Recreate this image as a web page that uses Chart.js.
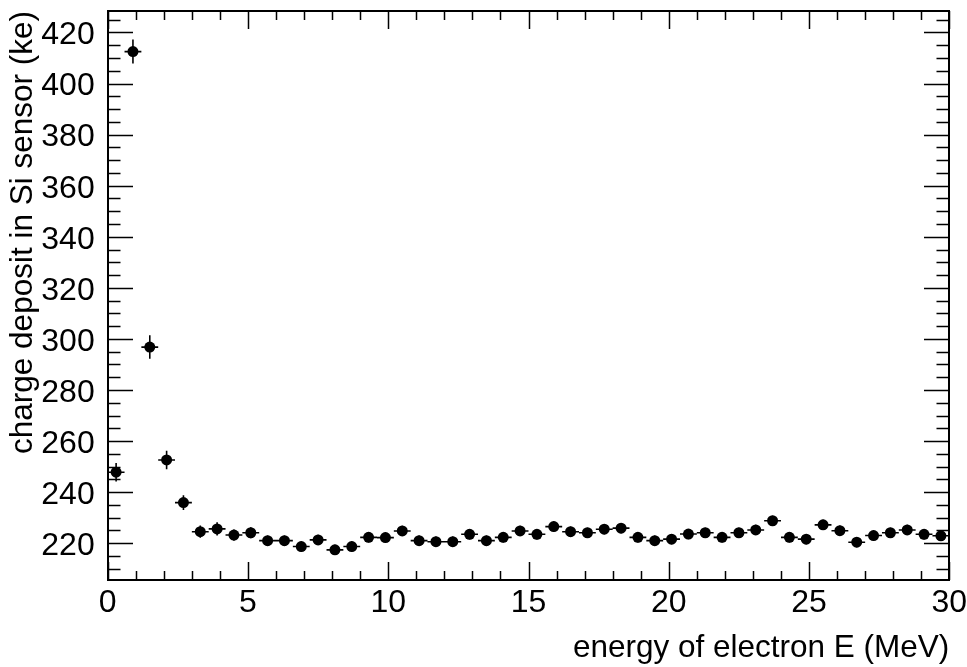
<!DOCTYPE html>
<html>
<head>
<meta charset="utf-8">
<script src="https://cdn.jsdelivr.net/npm/chart.js@4.4.1/dist/chart.umd.min.js"></script>
<style>
  html, body { margin: 0; padding: 0; background: #fff; }
  #wrap { width: 967px; height: 667px; }
</style>
</head>
<body>
<div id="wrap"><canvas id="chart" width="967" height="667"></canvas></div>
<script>
// bin centres (MeV)
const energy = [
  0.3, 0.9, 1.5, 2.1, 2.7, 3.3, 3.9, 4.5, 5.1, 5.7,
  6.3, 6.9, 7.5, 8.1, 8.7, 9.3, 9.9, 10.5, 11.1, 11.7,
  12.3, 12.9, 13.5, 14.1, 14.7, 15.3, 15.9, 16.5, 17.1, 17.7,
  18.3, 18.9, 19.5, 20.1, 20.7, 21.3, 21.9, 22.5, 23.1, 23.7,
  24.3, 24.9, 25.5, 26.1, 26.7, 27.3, 27.9, 28.5, 29.1, 29.7
];
// mean charge deposit (ke)
const charge = [
  247.8, 412.5, 296.8, 252.6, 235.9, 224.5, 225.6, 223.2, 224.1, 221.0,
  221.0, 218.7, 221.3, 217.4, 218.7, 222.3, 222.2, 224.8, 221.0, 220.6,
  220.6, 223.5, 221.0, 222.3, 224.8, 223.5, 226.5, 224.5, 224.1, 225.5,
  225.9, 222.3, 221.0, 221.6, 223.6, 224.1, 222.3, 224.1, 225.2, 228.8,
  222.3, 221.6, 227.2, 224.9, 220.4, 223.0, 224.1, 225.2, 223.5, 222.9
];
const chargeErr = [
  3.6, 4.7, 4.6, 3.6, 2.9, 2.4, 2.6, 2.2, 2.2, 2.0,
  2.0, 2.0, 2.0, 2.0, 2.0, 2.0, 2.0, 2.0, 2.0, 2.0,
  2.0, 2.0, 2.0, 2.0, 2.0, 2.0, 2.0, 2.0, 2.0, 2.0,
  2.0, 2.0, 2.0, 2.0, 2.0, 2.0, 2.0, 2.0, 2.0, 2.0,
  2.0, 2.0, 2.0, 2.0, 2.0, 2.0, 2.0, 2.0, 2.0, 2.0
];
const binHalfWidth = 0.3;

const xTicks = [0, 5, 10, 15, 20, 25, 30];
const yTicks = [220, 240, 260, 280, 300, 320, 340, 360, 380, 400, 420];
const xRange = [0, 30];
const yRange = [205.6, 428.4];

const FONT = "'Liberation Sans', Arial, Helvetica, sans-serif";

// ROOT style: error bars, frame and inward ticks on all four sides
const rootFrame = {
  id: 'rootFrame',
  beforeDatasetsDraw(chart) {
    const ctx = chart.ctx;
    const xs = chart.scales.x, ys = chart.scales.y;
    const a = chart.chartArea;
    ctx.save();
    ctx.beginPath();
    ctx.rect(a.left, a.top, a.right - a.left, a.bottom - a.top);
    ctx.clip();
    ctx.strokeStyle = '#000';
    ctx.lineWidth = 1.6;
    ctx.beginPath();
    energy.forEach((e, i) => {
      const px = xs.getPixelForValue(e);
      const py = ys.getPixelForValue(charge[i]);
      ctx.moveTo(xs.getPixelForValue(e - binHalfWidth), py);
      ctx.lineTo(xs.getPixelForValue(e + binHalfWidth), py);
      ctx.moveTo(px, ys.getPixelForValue(charge[i] - chargeErr[i]));
      ctx.lineTo(px, ys.getPixelForValue(charge[i] + chargeErr[i]));
    });
    ctx.stroke();
    ctx.restore();
  },
  afterDraw(chart) {
    const ctx = chart.ctx;
    const a = chart.chartArea;
    const xs = chart.scales.x, ys = chart.scales.y;
    const L = Math.round(a.left), R = Math.round(a.right);
    const T = Math.round(a.top), B = Math.round(a.bottom);
    ctx.save();
    ctx.strokeStyle = '#000';
    ctx.lineWidth = 1.5;
    ctx.beginPath();
    // x ticks, every 1 unit, major every 5
    for (let v = xRange[0]; v <= xRange[1]; v += 1) {
      const p = Math.round(xs.getPixelForValue(v)) + 0.5;
      const len = v % 5 === 0 ? 18 : 9;
      ctx.moveTo(p, B); ctx.lineTo(p, B - len);
      ctx.moveTo(p, T); ctx.lineTo(p, T + len);
    }
    // y ticks, every 5 units, major every 20
    for (let v = 210; v <= yRange[1]; v += 5) {
      const p = Math.round(ys.getPixelForValue(v)) + 0.5;
      const len = (v - 220) % 20 === 0 ? 25 : 12.5;
      ctx.moveTo(L, p); ctx.lineTo(L + len, p);
      ctx.moveTo(R, p); ctx.lineTo(R - len, p);
    }
    ctx.stroke();
    ctx.lineWidth = 2;
    ctx.strokeRect(L, T, R - L, B - T);
    ctx.restore();
  }
};

Chart.defaults.color = '#000';
Chart.defaults.font.family = FONT;

new Chart(document.getElementById('chart'), {
  type: 'scatter',
  data: {
    datasets: [{
      label: 'charge',
      data: energy.map((e, i) => ({ x: e, y: charge[i] })),
      backgroundColor: '#000',
      borderWidth: 0,
      pointRadius: 5.5,
      pointHoverRadius: 5.5
    }]
  },
  options: {
    responsive: false,
    animation: false,
    layout: { padding: { top: 11, right: 17.7, left: 0, bottom: 0 } },
    plugins: { legend: { display: false }, tooltip: { enabled: false } },
    scales: {
      x: {
        type: 'linear',
        min: xRange[0],
        max: xRange[1],
        afterBuildTicks: s => { s.ticks = xTicks.map(v => ({ value: v })); },
        afterFit: s => { s.height = 87; s.paddingLeft = 0; s.paddingRight = 0; },
        grid: { display: false },
        border: { display: false },
        ticks: { font: { size: 32 }, padding: -4, maxRotation: 0, autoSkip: false },
        title: {
          display: true,
          text: 'energy of electron E (MeV)',
          align: 'end',
          font: { size: 31.5 },
          padding: { top: 0, bottom: 0 }
        }
      },
      y: {
        type: 'linear',
        min: yRange[0],
        max: yRange[1],
        afterBuildTicks: s => { s.ticks = yTicks.map(v => ({ value: v })); },
        afterFit: s => { s.width = 107.7; s.paddingTop = 0; s.paddingBottom = 0; },
        grid: { display: false },
        border: { display: false },
        ticks: { font: { size: 32 }, padding: 5, labelOffset: 3, autoSkip: false },
        title: {
          display: true,
          text: 'charge deposit in Si sensor (ke)',
          align: 'end',
          font: { size: 31.5 },
          padding: { top: 4, bottom: 0 }
        }
      }
    }
  },
  plugins: [rootFrame]
});
</script>
</body>
</html>
